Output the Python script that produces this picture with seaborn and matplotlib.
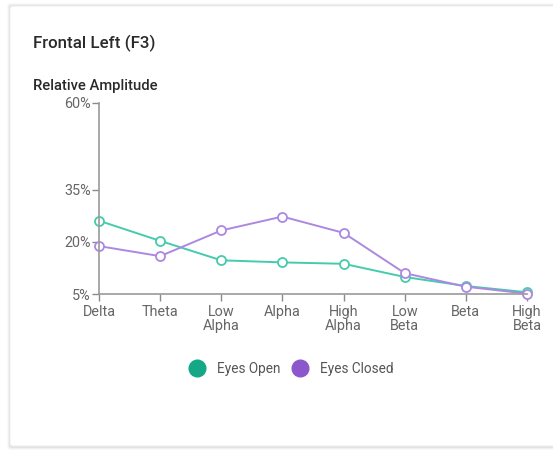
import pandas as pd
import seaborn as sns
import matplotlib.pyplot as plt
from matplotlib.lines import Line2D
from matplotlib.patches import FancyBboxPatch

# values (percent)
bands = ["Delta", "Theta", "Low\nAlpha", "Alpha", "High\nAlpha", "Low\nBeta", "Beta", "High\nBeta"]
eyes_open = [26.1, 20.3, 14.7, 14.1, 13.7, 9.9, 7.3, 5.5]
eyes_closed = [18.8, 15.9, 23.3, 27.3, 22.6, 11.0, 7.1, 5.1]
y_ticks = [5, 20, 35, 60]
series_names = ["Eyes Open", "Eyes Closed"]

line_colors = {"Eyes Open": "#45cbac", "Eyes Closed": "#ac88e2"}
dot_colors = {"Eyes Open": "#14a886", "Eyes Closed": "#8c57cc"}

df = pd.DataFrame({"band": list(range(len(bands))) * 2,
                   "value": eyes_open + eyes_closed,
                   "series": [series_names[0]] * len(bands) + [series_names[1]] * len(bands)})

sns.set_theme(style="white")
plt.rcParams["font.family"] = ["Roboto", "DejaVu Sans"]

W, H = 553, 450
fig = plt.figure(figsize=(W / 100, H / 100), dpi=100)

# card with a soft shadow
for i, a in enumerate([0.025, 0.035, 0.05]):
    d = 3 - i
    fig.patches.append(FancyBboxPatch(((10 - d) / W, (3 - d) / H), (560 - 10 + 2 * d) / W, (441 + 2 * d) / H,
                                      boxstyle="round,pad=0,rounding_size=0.006", transform=fig.transFigure,
                                      facecolor="black", edgecolor="none", alpha=a, zorder=0))
fig.patches.append(FancyBboxPatch((10 / W, 4 / H), 550 / W, 440 / H,
                                  boxstyle="round,pad=0,rounding_size=0.006", transform=fig.transFigure,
                                  facecolor="white", edgecolor="#ececec", linewidth=0.6, zorder=1))

ax = fig.add_axes([99 / W, 1 - 294 / H, (527 - 99) / W, (294 - 103) / H])
ax.set_facecolor("none")
ax.set_zorder(3)

sns.lineplot(data=df, x="band", y="value", hue="series", palette=line_colors,
             marker="o", markersize=6.5, linewidth=1.4, ax=ax, legend=False, sort=False)
for ln, name in zip(ax.lines, series_names):
    ln.set_markerfacecolor("white")
    ln.set_markeredgecolor(line_colors[name])
    ln.set_markeredgewidth(1.3)
    ln.set_clip_on(False)

ax.set_xlim(0, len(bands) - 1)
ax.set_ylim(5, 60)
ax.set_xticks(range(len(bands)))
ax.set_xticklabels(bands, linespacing=0.95)
ax.set_yticks(y_ticks)
ax.set_yticklabels([f"{t}%" for t in y_ticks])
ax.set_xlabel("")
ax.set_ylabel("")
ax.tick_params(axis="both", colors="#8a8a8a", labelcolor="#666666", labelsize=10.4,
               length=5, width=1, left=True, bottom=True)
ax.tick_params(axis="x", pad=3)
ax.tick_params(axis="y", pad=1)
for s in ["top", "right"]:
    ax.spines[s].set_visible(False)
for s in ["left", "bottom"]:
    ax.spines[s].set_color("#9a9a9a")
    ax.spines[s].set_linewidth(1.2)

fig.text(33 / W, 1 - 43 / H, "Frontal Left (F3)", fontsize=12.2, fontweight="medium",
         color="#2a2a2a", va="center", zorder=4)
fig.text(33 / W, 1 - 86 / H, "Relative Amplitude", fontsize=10.6, fontweight="medium",
         color="#2a2a2a", va="center", zorder=4)

handles = [Line2D([], [], marker="o", linestyle="none", markersize=12,
                  markerfacecolor=dot_colors[n], markeredgecolor=dot_colors[n]) for n in series_names]
leg = fig.legend(handles, series_names, loc="center", bbox_to_anchor=(291.5 / W, 1 - 369 / H), ncol=2,
                 frameon=False, fontsize=9.8, labelcolor="#555555", handletextpad=0.87, columnspacing=0.82,
                 handlelength=1.2)
leg.set_zorder(4)

fig.savefig("out.png", dpi=100)
